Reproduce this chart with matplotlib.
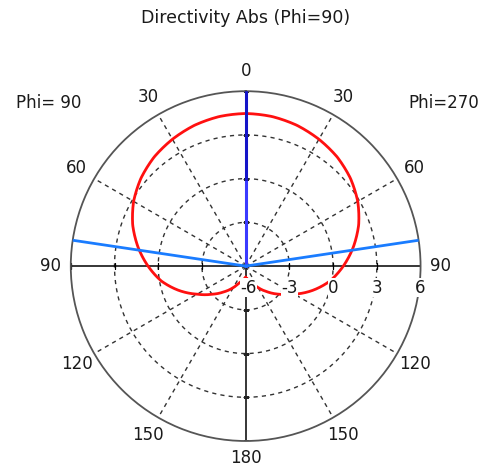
import numpy as np
import matplotlib
matplotlib.use("Agg")
import matplotlib.pyplot as plt

# ---- data ----
theta_deg = [0, 10, 20, 30, 40, 50, 60, 70, 80, 90, 100, 110, 120, 130, 140, 150, 160, 170, 180]
directivity_db = [4.47, 4.42, 4.28, 4.05, 3.77, 3.38, 2.88, 2.25, 1.5, 0.7, -0.12, -1.12, -2.15, -3.0,
                  -3.7, -4.3, -4.8, -5.08, -5.22]
main_lobe_deg = 0.0
beam_edges_deg = [-81.5, 81.5]
r_ticks = [-6, -3, 0, 3, 6]
angle_labels = [0, 30, 60, 90, 120, 150, 180]
title = "Directivity Abs (Phi=90)"
side_left = "Phi= 90"
side_right = "Phi=270"

FONT = "DejaVu Sans"
FS = 12
TXT = "#1a1a1a"

fig = plt.figure(figsize=(4.86, 4.67), dpi=100)
ax = fig.add_axes([0.1455, 0.0557, 0.720, 0.749], projection="polar")
ax.set_theta_zero_location("N")
ax.set_theta_direction(-1)
rmin, rmax = r_ticks[0], r_ticks[-1]
ax.set_rlim(rmin, rmax)
ax.set_xticks([])
ax.set_yticks([])
ax.grid(False)
ax.spines["polar"].set_color("#555555")
ax.spines["polar"].set_linewidth(1.3)

# dashed grid circles
tt = np.linspace(0, 2 * np.pi, 361)
for rv in r_ticks[1:-1]:
    ax.plot(tt, np.full_like(tt, rv), ls=(0, (3, 3)), color="#333333", lw=1.0, zorder=1)
# dashed spokes
for a in [30, 60, 120, 150, 210, 240, 300, 330]:
    ax.plot([np.deg2rad(a)] * 2, [rmin, rmax], ls=(0, (3, 3)), color="#333333", lw=1.0, zorder=1)
# solid axes
for a in [90, 180, 270]:
    ax.plot([np.deg2rad(a)] * 2, [rmin, rmax], color="black", lw=1.1, zorder=2)
# ticks on axes
for rv in r_ticks[1:]:
    ax.plot([np.deg2rad(90), np.deg2rad(270)], [rv, rv], ls="none", marker="|",
            ms=5, mew=0.9, color="black", zorder=2)
    ax.plot([np.deg2rad(0), np.deg2rad(180)], [rv, rv], ls="none", marker="_",
            ms=4.5, mew=0.8, color="#222222", zorder=2)

# directivity curve (symmetric)
th = np.deg2rad(np.array(theta_deg, dtype=float))
db = np.array(directivity_db, dtype=float)
th_full = np.concatenate([-th[::-1], th[1:]])
db_full = np.concatenate([db[::-1], db[1:]])
curve, = ax.plot(th_full, db_full, color="#ff1010", lw=2.0, zorder=4)
curve.get_path()._interpolation_steps = 40

# main lobe direction and beam width lines
ml = np.deg2rad(main_lobe_deg)
ax.plot([ml, ml], [rmin, 0], color="#3a3aff", lw=2.2, zorder=5)
ax.plot([ml, ml], [0, rmax], color="#1414c8", lw=2.2, zorder=5)
for b in beam_edges_deg:
    ax.plot([np.deg2rad(b)] * 2, [rmin, rmax], color="#1a7cff", lw=2.0, zorder=5)

# radial labels
for rv in r_ticks:
    lab = str(rv) if rv >= 0 else "-" + str(-rv)
    ax.annotate(lab, xy=(np.deg2rad(90), rv), xytext=(0 if rv != rmin else 2, -15.5),
                textcoords="offset points", ha="center", va="center",
                fontsize=FS, family=FONT, color=TXT, zorder=6,
                bbox=dict(facecolor="white", edgecolor="none", pad=0.3))

# angle labels
for a in angle_labels:
    r_lab = 7.2 if a == 180 else 7.4
    for s in ([1] if a in (0, 180) else [-1, 1]):
        ax.text(np.deg2rad(s * a), r_lab, str(a), ha="center", va="center",
                fontsize=FS, family=FONT, color=TXT, clip_on=False)

fig.text(49 / 486, 1 - 103 / 467, side_left, ha="center", va="center",
         fontsize=FS, family=FONT, color=TXT)
fig.text(444 / 486, 1 - 103 / 467, side_right, ha="center", va="center",
         fontsize=FS, family=FONT, color=TXT)
fig.text(246 / 486, 1 - 18 / 467, title, ha="center", va="center",
         fontsize=12.5, family=FONT, color=TXT)

fig.savefig("out.png", dpi=100)
